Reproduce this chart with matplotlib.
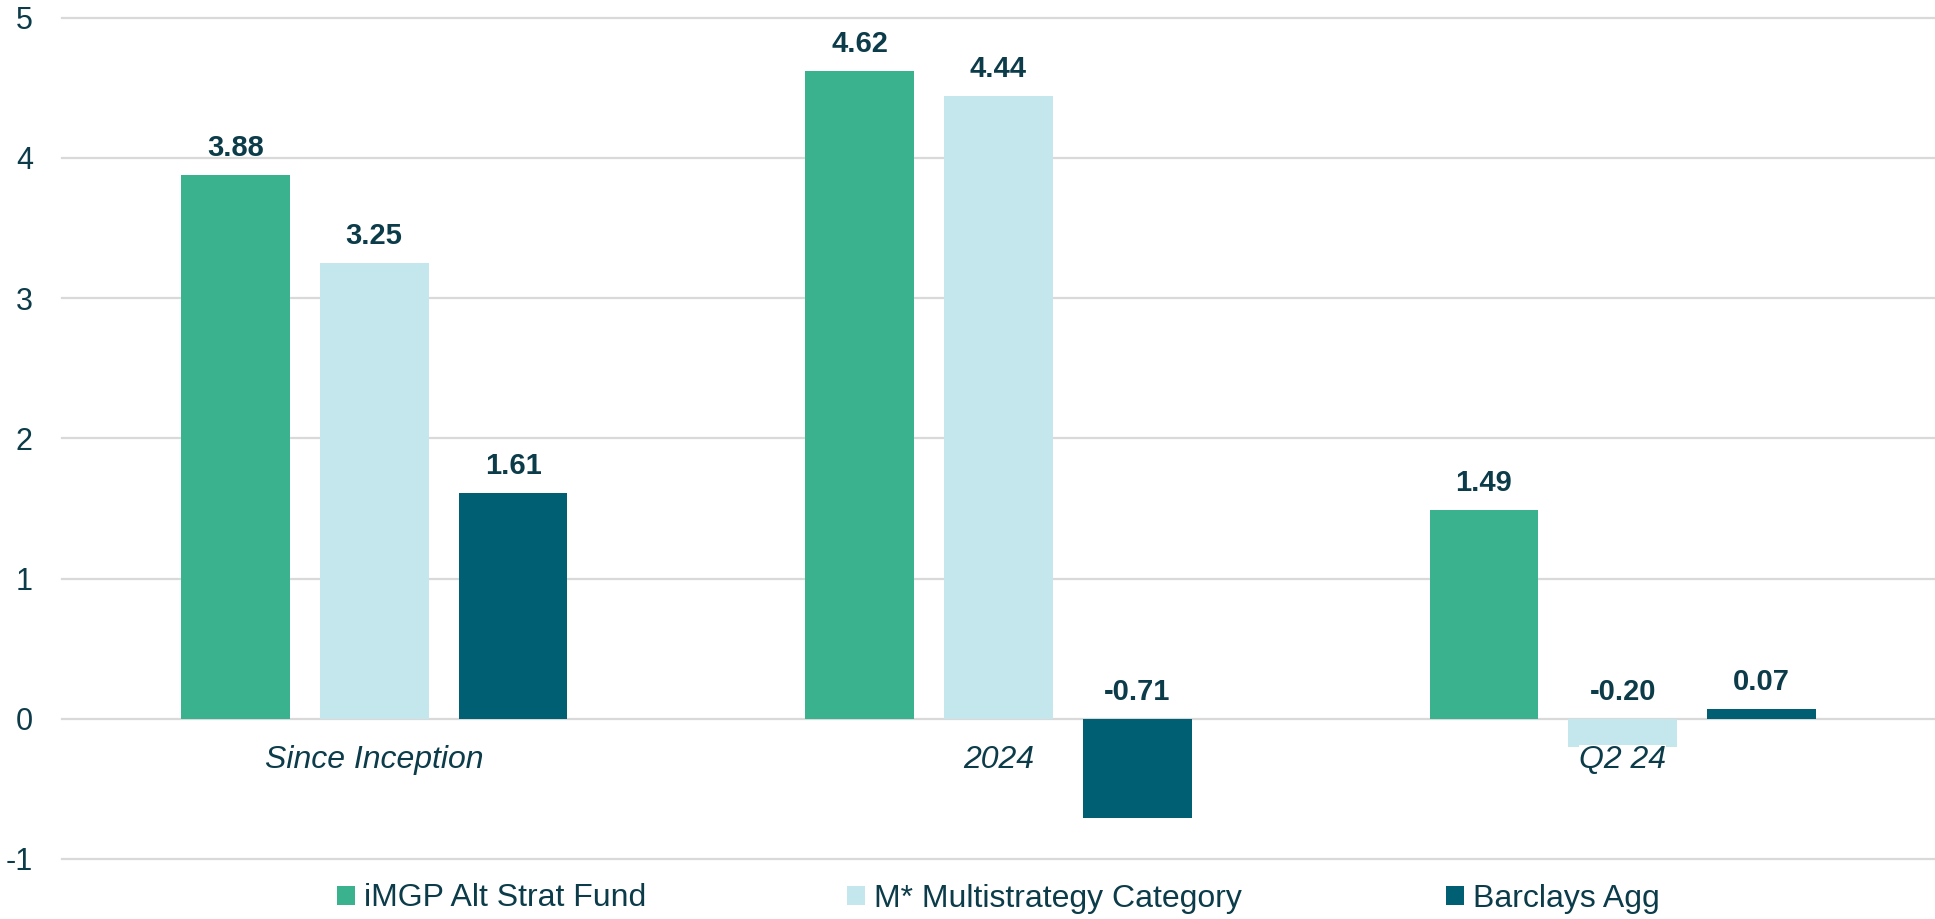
import matplotlib
matplotlib.use("Agg")
import matplotlib.pyplot as plt
from matplotlib.patches import Patch

categories = ["Since Inception", "2024", "Q2 24"]
series_names = ["iMGP Alt Strat Fund", "M* Multistrategy Category", "Barclays Agg"]
fund = [3.88, 4.62, 1.49]
category_avg = [3.25, 4.44, -0.20]
barclays = [1.61, -0.71, 0.07]
yticks = [-1, 0, 1, 2, 3, 4, 5]

colors = ["#3AB28E", "#C3E7EC", "#015F74"]
text_color = "#0C3C4A"
grid_color = "#D9D9D9"

plt.rcParams["font.family"] = ["Liberation Sans", "DejaVu Sans"]

W, H = 1935, 919
fig = plt.figure(figsize=(W / 100, H / 100), dpi=100)
left_px, top_px, bottom_px = 62, 17.7, 859
ax = fig.add_axes([left_px / W, 1 - bottom_px / H, 1 - left_px / W, (bottom_px - top_px) / H])

ax.set_xlim(-0.5, 2.5)
ax.set_ylim(-1, 5)

for y in yticks:
    ax.axhline(y, color=grid_color, lw=1.6, zorder=0, clip_on=False)

offset = 0.2224
width = 0.1744
series = [fund, category_avg, barclays]
for i, (vals, col, name) in enumerate(zip(series, colors, series_names)):
    xs = [c + (i - 1) * offset for c in range(len(categories))]
    ax.bar(xs, vals, width=width, color=col, zorder=1, label=name)
    for x, v in zip(xs, vals):
        ax.annotate(f"{v:.2f}", xy=(x, max(v, 0)), xytext=(0, 13.5),
                    textcoords="offset points", ha="center", va="baseline",
                    fontsize=21, fontweight="bold", color=text_color)

for s in ax.spines.values():
    s.set_visible(False)
ax.spines["bottom"].set_position(("data", 0))

ax.set_yticks(yticks)
ax.set_yticklabels([str(t) for t in yticks])
ax.set_xticks(range(len(categories)))
ax.set_xticklabels(categories)
ax.tick_params(axis="both", length=0)
ax.tick_params(axis="y", labelsize=22, labelcolor=text_color, pad=21)
ax.tick_params(axis="x", labelsize=23, labelcolor=text_color, pad=19)
for lbl in ax.get_xticklabels():
    lbl.set_fontstyle("italic")
    lbl.set_bbox(dict(facecolor="white", edgecolor="none", pad=0))

# legend entries placed individually (left edge of each marker, in pixels)
legend_x_px = [337, 847, 1446]
for col, name, xp in zip(colors, series_names, legend_x_px):
    leg = fig.legend([Patch(facecolor=col, edgecolor="none")], [name],
                     loc="center left", bbox_to_anchor=(xp / W, 1 - 898.5 / H),
                     frameon=False, fontsize=23, handlelength=0.55,
                     handleheight=0.55, handletextpad=0.3, borderpad=0,
                     borderaxespad=0)
    for t in leg.get_texts():
        t.set_color(text_color)

fig.savefig("out.png", dpi=100)
